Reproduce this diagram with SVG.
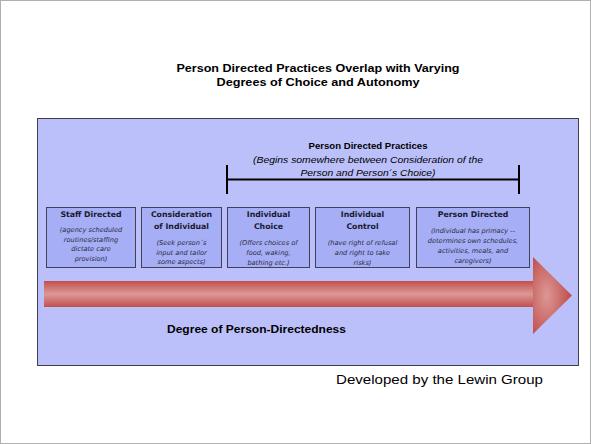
<svg xmlns="http://www.w3.org/2000/svg" width="591" height="444" viewBox="0 0 591 444">
  <defs>
    <linearGradient id="shaftGrad" x1="0" y1="0" x2="0" y2="1">
      <stop offset="0" stop-color="#c0504d"/>
      <stop offset="0.5" stop-color="#dc9896"/>
      <stop offset="1" stop-color="#c0504d"/>
    </linearGradient>
    <radialGradient id="headGrad" cx="0.35" cy="0.5" r="0.6">
      <stop offset="0" stop-color="#dc9896"/>
      <stop offset="1" stop-color="#c0504d"/>
    </radialGradient>
    <style>
      .title { font-family: "Liberation Sans", Arial, sans-serif; font-weight: bold; font-size: 11.5px; fill: #000; }
      .hdr { font-family: "Liberation Sans", Arial, sans-serif; font-size: 9.4px; fill: #000; }
      .box { fill: #a6aef5; stroke: #40405a; stroke-width: 1; }
      .bt { font-family: "DejaVu Sans", Verdana, sans-serif; font-size: 7.8px; font-weight: bold; fill: #1a1a2e; }
      .bd { font-family: "DejaVu Sans", Verdana, sans-serif; font-size: 6.6px; font-style: italic; fill: #2a2a40; }
      .foot { font-family: "Liberation Sans", Arial, sans-serif; font-size: 12.5px; fill: #000; }
    </style>
  </defs>

  <!-- slide frame -->
  <rect x="0.5" y="0.5" width="590" height="443" fill="#ffffff" stroke="#b0b0b0" stroke-width="1"/>

  <!-- title -->
  <text class="title" x="318" y="72" text-anchor="middle" textLength="283" lengthAdjust="spacingAndGlyphs">Person Directed Practices Overlap with Varying</text>
  <text class="title" x="318" y="86" text-anchor="middle" textLength="203" lengthAdjust="spacingAndGlyphs">Degrees of Choice and Autonomy</text>

  <!-- panel -->
  <rect x="37.5" y="118.5" width="541" height="247" fill="#bcc0fa" stroke="#404048" stroke-width="1"/>

  <!-- practices header -->
  <g id="practices-header">
    <text class="hdr" x="368" y="148.5" text-anchor="middle" font-weight="bold" textLength="119" lengthAdjust="spacingAndGlyphs">Person Directed Practices</text>
    <text class="hdr" x="368" y="162.5" text-anchor="middle" font-style="italic" textLength="230" lengthAdjust="spacingAndGlyphs">(Begins somewhere between Consideration of the</text>
    <text class="hdr" x="368" y="176" text-anchor="middle" font-style="italic" textLength="135" lengthAdjust="spacingAndGlyphs">Person and Person´s Choice)</text>
  </g>

  <!-- bracket -->
  <g id="connectors" stroke="#000" stroke-width="2" fill="none">
    <line x1="227" y1="165" x2="227" y2="194"/>
    <line x1="227" y1="179.5" x2="519" y2="179.5"/>
    <line x1="519" y1="165" x2="519" y2="194"/>
  </g>

  <!-- stages -->
  <g id="staff-directed">
    <rect class="box" x="46.5" y="207.5" width="89" height="60"/>
    <text class="bt" x="91" y="217" text-anchor="middle">Staff Directed</text>
    <text class="bd" x="91" y="232" text-anchor="middle">(agency scheduled</text>
    <text class="bd" x="91" y="241.5" text-anchor="middle">routines/staffing</text>
    <text class="bd" x="91" y="251" text-anchor="middle">dictate care</text>
    <text class="bd" x="91" y="260.5" text-anchor="middle">provision)</text>
  </g>

  <g id="consideration">
    <rect class="box" x="141.5" y="207.5" width="80" height="60"/>
    <text class="bt" x="181.5" y="217" text-anchor="middle">Consideration</text>
    <text class="bt" x="181.5" y="229" text-anchor="middle">of Individual</text>
    <text class="bd" x="181.5" y="245" text-anchor="middle">(Seek person´s</text>
    <text class="bd" x="181.5" y="254.5" text-anchor="middle">input and tailor</text>
    <text class="bd" x="181.5" y="264" text-anchor="middle">some aspects)</text>
  </g>

  <g id="individual-choice">
    <rect class="box" x="227.5" y="207.5" width="82" height="60"/>
    <text class="bt" x="268.5" y="217" text-anchor="middle">Individual</text>
    <text class="bt" x="268.5" y="229" text-anchor="middle">Choice</text>
    <text class="bd" x="268.5" y="244.5" text-anchor="middle">(Offers choices of</text>
    <text class="bd" x="268.5" y="254.5" text-anchor="middle">food, waking,</text>
    <text class="bd" x="268.5" y="264.5" text-anchor="middle">bathing etc.)</text>
  </g>

  <g id="individual-control">
    <rect class="box" x="315.5" y="207.5" width="94" height="60"/>
    <text class="bt" x="362.5" y="217" text-anchor="middle">Individual</text>
    <text class="bt" x="362.5" y="229" text-anchor="middle">Control</text>
    <text class="bd" x="362.5" y="244.5" text-anchor="middle">(have right of refusal</text>
    <text class="bd" x="362.5" y="254.5" text-anchor="middle">and right to take</text>
    <text class="bd" x="362.5" y="264.5" text-anchor="middle">risks)</text>
  </g>

  <g id="person-directed">
    <rect class="box" x="416.5" y="207.5" width="113" height="60"/>
    <text class="bt" x="473" y="217" text-anchor="middle">Person Directed</text>
    <text class="bd" x="473" y="232.5" text-anchor="middle">(Individual has primacy --</text>
    <text class="bd" x="473" y="242.5" text-anchor="middle">determines own schedules,</text>
    <text class="bd" x="473" y="252.5" text-anchor="middle">activities, meals, and</text>
    <text class="bd" x="473" y="262.5" text-anchor="middle">caregivers)</text>
  </g>

  <!-- directedness arrow -->
  <g id="directedness-arrow">
    <rect x="44" y="281" width="490" height="26" fill="url(#shaftGrad)"/>
    <polygon points="533,257 572,295.5 533,334" fill="url(#headGrad)"/>
    <text class="title" x="256.5" y="333" text-anchor="middle" font-size="10.5" textLength="179" lengthAdjust="spacingAndGlyphs">Degree of Person-Directedness</text>
  </g>

  <text class="foot" x="439.5" y="383.5" text-anchor="middle" textLength="207" lengthAdjust="spacingAndGlyphs">Developed by the Lewin Group</text>
</svg>
